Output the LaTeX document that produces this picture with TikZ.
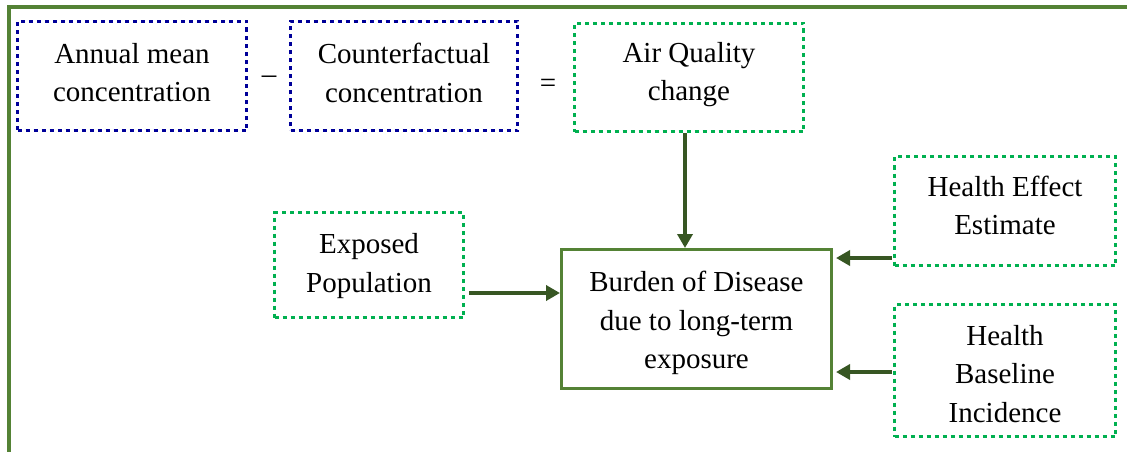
\documentclass[tikz,border=0pt]{standalone}
\usepackage{fontspec}
\setmainfont{Liberation Serif}
\usetikzlibrary{arrows.meta}
\definecolor{frameGreen}{HTML}{548235}
\definecolor{arrowGreen}{HTML}{375623}
\definecolor{dotBlue}{HTML}{000099}
\definecolor{dotGreen}{HTML}{00B050}

\begin{document}
\begin{tikzpicture}[x=1pt,y=-1pt,
  every node/.style={font=\fontsize{29}{38.5}\selectfont, align=center, inner sep=0pt, text=black},
  box/.style={draw, rectangle, line width=3.6pt, dash pattern=on 4pt off 4pt},
  bluebox/.style={box, draw=dotBlue},
  greenbox/.style={box, draw=dotGreen},
  mainbox/.style={draw=frameGreen, line width=3pt, rectangle},
  arr/.style={draw=arrowGreen, line width=4pt, -{Triangle[length=14pt,width=15pt]}}]

\useasboundingbox (0,0) rectangle (1127,452);

% outer frame (top and left edges only)
\draw[frameGreen, line width=4pt] (1127,7) -- (9,7) -- (9,454);

% boxes
\node[bluebox, minimum width=229pt, minimum height=109pt] (ann) at (132,76) {};
\node[bluebox, minimum width=227pt, minimum height=109pt] (cf) at (404,76) {};
\node[greenbox, minimum width=229pt, minimum height=108pt] (aq) at (689,77.5) {};
\node[greenbox, minimum width=189pt, minimum height=105pt] (ep) at (369,265) {};
\node[mainbox, minimum width=270pt, minimum height=139pt] (bd) at (696.5,319) {};
\node[greenbox, minimum width=221pt, minimum height=109pt] (he) at (1005,211) {};
\node[greenbox, minimum width=221pt, minimum height=132pt] (hb) at (1005,370.5) {};

% box texts
\node (annT) at ([yshift=3.5pt]ann.center) {Annual mean\\concentration};
\node (cfT) at ([yshift=3pt]cf.center) {Counterfactual\\concentration};
\node (aqT) at ([yshift=3pt]aq.center) {Air Quality\\change};
\node (epT) at ([yshift=-1pt]ep.center) {Exposed\\Population};
\node (bdT) at ([yshift=-4pt]bd.center) {Burden of Disease\\due to long-term\\exposure};
\node (heT) at ([yshift=5.5pt]he.center) {Health Effect\\Estimate};
\node (hbT) at ([yshift=-3.5pt]hb.center) {Health\\Baseline\\Incidence};

% operators between the top boxes
\node[anchor=base] (minus) at (269,84) {–};
\node[anchor=base] (eq) at (548,92.5) {=};

% connectors
\draw[arr] ([xshift=-4pt]aq.south) -- ([xshift=-4pt]aq.south |- bd.north);
\draw[arr] ([xshift=4pt]ep.east |- 0,293) -- (bd.west |- 0,293);
\draw[arr] ([xshift=-1pt]he.west |- 0,258) -- ([xshift=3pt]bd.east |- 0,258);
\draw[arr] ([xshift=-1pt]hb.west |- 0,372) -- ([xshift=3pt]bd.east |- 0,372);
\end{tikzpicture}
\end{document}
